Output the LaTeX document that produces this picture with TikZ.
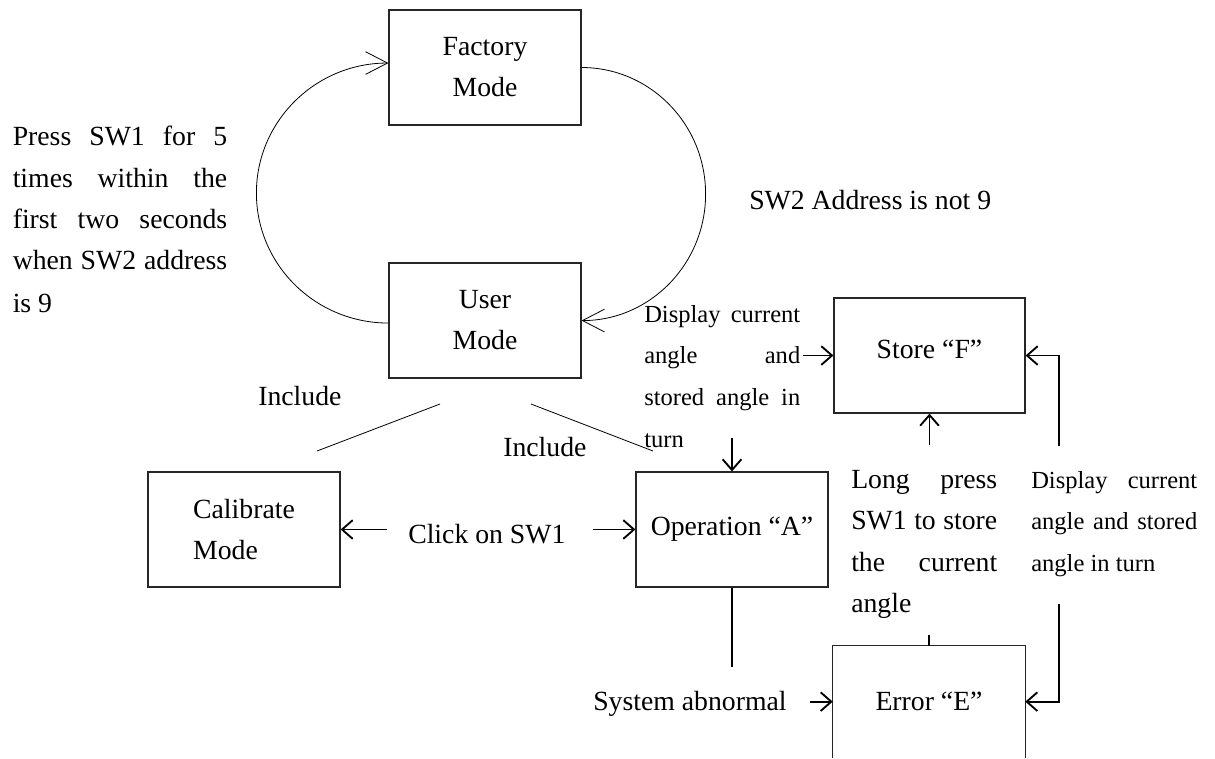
\documentclass[tikz,border=0pt]{standalone}
\usepackage{fontspec}
\setmainfont{Liberation Serif}
\usetikzlibrary{arrows.meta}
\newcommand{\bigf}{\fontsize{20.8pt}{30.75pt}\selectfont}
\newcommand{\smf}{\fontsize{18.4pt}{31pt}\selectfont}
\tikzset{
  box/.style={draw=black!85, line width=0.9pt, inner sep=0pt, minimum width=144pt, minimum height=86.25pt, font=\bigf},
  txt/.style={anchor=base west, inner sep=0pt, font=\bigf},
  stxt/.style={anchor=base west, inner sep=0pt, font=\smf},
  curve/.style={line width=0.6pt, -{Straight Barb[length=16.5pt, width=17pt]}},
  thin/.style={line width=0.6pt},
  conn/.style={line width=1.4pt},
  arr/.style={line width=1.4pt, -{Straight Barb[length=8pt, width=14pt]}}
}
\begin{document}
\begin{tikzpicture}[x=0.75pt, y=-0.75pt]
\useasboundingbox (0,0) rectangle (1215,758);
% boxes
\node[box, align=center] (factory) at (485,67.5) {Factory\\Mode};
\node[box, align=center] (user) at (485,320.5) {User\\Mode};
\node[box, align=left] (cal) at (244,529.5) {Calibrate\\Mode};
\node[box] (op) at (732,529.5) {Operation “A”};
\node[box, minimum width=143.25pt, text depth=10pt] (store) at (929.5,355.5) {Store “F”};
\node[inner sep=0pt, minimum width=144pt, minimum height=83.5pt, font=\bigf] (err) at (929,701.65) {Error “E”};
\draw[draw=black!85, line width=0.9pt] (err.south west) -- (err.north west) -- (err.north east) -- (err.south east);
% arcs
\draw[curve] ([yshift=-1.9pt]user.west) arc[start angle=270, end angle=90, x radius=99pt, y radius=97.5pt];
\draw[curve] (factory.east) arc[start angle=90, end angle=-90, x radius=93pt, y radius=94.9pt];
% left text block
\node[txt] (l1) at (12.5,145) {\makebox[160.9pt][s]{Press SW1 for 5}};
\node[txt] (l2) at (12.5,187) {\makebox[160.9pt][s]{times within the}};
\node[txt] (l3) at (12.5,228) {\makebox[160.9pt][s]{first two seconds}};
\node[txt] (l4) at (12.5,269) {\makebox[160.9pt][s]{when SW2 address}};
\node[txt] (l5) at (12.5,312) {is 9};
\node[txt] (sw2) at (749,209) {SW2 Address is not 9};
% include
\node[txt] (inc1) at (258,405) {Include};
\node[txt] (inc2) at (503,456) {Include};
\coordinate (i1a) at (317,451);
\coordinate (i1b) at (440,404);
\coordinate (i2a) at (531,404);
\coordinate (i2b) at (653,451);
\draw[thin] (i1a) -- (i1b);
\draw[thin] (i2a) -- (i2b);
% click
\node[txt] (click) at (408,543) {Click on SW1};
\coordinate (cl) at (387,529.5);
\coordinate (cr) at (593,529.5);
\draw[arr] (cl) -- (cal.east);
\draw[arr] (cr) -- (op.west);
% upper display block
\node[stxt] (d1) at (644,322) {\makebox[117pt][s]{Display current}};
\node[stxt] (d2) at (644,363) {\makebox[117pt][s]{angle and}};
\node[stxt] (d3) at (644,405) {\makebox[117pt][s]{stored angle in}};
\node[stxt] (d4) at (644,447) {turn};
\coordinate (dd) at (732,438);
\draw[arr] (dd) -- (op.north);
\coordinate (ds) at (803,355.5);
\draw[arr] (ds) -- (store.west);
% long press block
\node[txt] (p1) at (851,488) {\makebox[109.5pt][s]{Long press}};
\node[txt] (p2) at (851,529) {\makebox[109.5pt][s]{SW1 to store}};
\node[txt] (p3) at (851,571) {\makebox[109.5pt][s]{the current}};
\node[txt] (p4) at (851,612) {angle};
\coordinate (lp) at (929.5,445);
\draw[arr] (lp) -- (store.south);
\coordinate (tk) at (929,635);
\draw[line width=0.8pt] (tk) -- (err.north);
% right display block
\node[stxt] (r1) at (1031,488) {\makebox[124.5pt][s]{Display current}};
\node[stxt] (r2) at (1031,529) {\makebox[124.5pt][s]{angle and stored}};
\node[stxt] (r3) at (1031,571) {angle in turn};
\coordinate (rt) at (1059,446);
\draw[arr] (rt) -- (rt |- store.east) -- (store.east);
\coordinate (rb) at (1059,604);
\draw[arr] (rb) -- (rb |- err.east) -- (err.east);
% operation down / system abnormal
\coordinate (od) at (732,667);
\draw[conn] (op.south) -- (od);
\node[txt] (sys) at (593,710) {System abnormal};
\coordinate (sa) at (810,701.65);
\draw[arr] (sa) -- (err.west);
\end{tikzpicture}
\end{document}
